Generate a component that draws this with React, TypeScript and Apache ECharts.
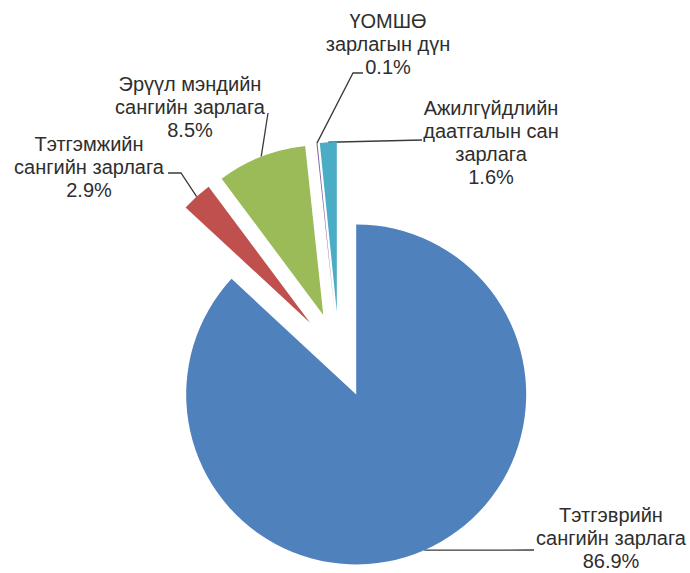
import React, { useEffect, useRef } from 'react';
import * as echarts from 'echarts';

const categories = [
  'Тэтгэврийн\nсангийн зарлага',
  'Тэтгэмжийн\nсангийн зарлага',
  'Эрүүл мэндийн\nсангийн зарлага',
  'ҮОМШӨ\nзарлагын дүн',
  'Ажилгүйдлийн\nдаатгалын сан\nзарлага',
];
const values = [86.9, 2.9, 8.5, 0.1, 1.6];
const colors = ['#4F81BD', '#C0504D', '#9BBB59', '#8064A2', '#4BACC6'];

// layout (pixels): pie geometry and label placement
const CX = 339;
const CY = 355;
const R = 170;
const EXPLODE = 43;
const labelCenters = [
  [611, 538],
  [89, 167],
  [190, 107],
  [388, 44],
  [491, 142],
];
const leaderBends = [
  [[534, 550]],
  [[181, 173], [168, 173]],
  [[268, 113]],
  [[353, 73], [363, 73]],
  [[422, 140]],
];

function midAngles(): number[] {
  const total = values.reduce((a, b) => a + b, 0);
  let acc = 0;
  return values.map((v) => {
    const a = ((acc + v / 2) / total) * Math.PI * 2;
    acc += v;
    return a;
  });
}

export default function App() {
  const ref = useRef<HTMLDivElement>(null);
  useEffect(() => {
    if (!ref.current) return;
    const chart = echarts.init(ref.current, null, { renderer: 'svg' });
    const mids = midAngles();
    // one exploded pie per slice: each series shows only its own slice,
    // shifted outward along that slice's bisector
    const series = values.map((_, i) => {
      const a = mids[i];
      const cx = CX + EXPLODE * Math.sin(a);
      const cy = CY - EXPLODE * Math.cos(a);
      return {
        type: 'pie',
        name: categories[i],
        center: [cx, cy],
        radius: [0, R],
        startAngle: 90,
        clockwise: true,
        silent: true,
        avoidLabelOverlap: false,
        minShowLabelAngle: 0,
        emphasis: { disabled: true },
        itemStyle: { borderWidth: 0 },
        label: {
          show: true,
          position: 'outside',
          formatter: (p: any) =>
            `${categories[p.dataIndex]}\n${values[p.dataIndex].toFixed(1)}%`,
          fontFamily: '"Liberation Sans", Arial, sans-serif',
          fontSize: 20,
          lineHeight: 23,
          color: '#2e2e2e',
          align: 'center',
        },
        labelLine: {
          show: true,
          lineStyle: { color: '#3a3a3a', width: 1.3 },
        },
        labelLayout: (params: any) => {
          const j = params.dataIndex;
          if (j !== i) return {};
          const sx = cx + R * Math.sin(a);
          const sy = cy - R * Math.cos(a);
          return {
            x: labelCenters[j][0],
            y: labelCenters[j][1],
            align: 'center',
            verticalAlign: 'middle',
            labelLinePoints: [[sx, sy], ...leaderBends[j]],
          };
        },
        data: values.map((v, j) =>
          j === i
            ? { name: categories[j], value: v, itemStyle: { color: colors[j], borderWidth: 0 } }
            : {
                name: categories[j],
                value: v,
                itemStyle: { color: 'rgba(0,0,0,0)', borderWidth: 0 },
                label: { show: false },
                labelLine: { show: false },
              }
        ),
      };
    });
    chart.setOption({
      animation: false,
      backgroundColor: '#ffffff',
      series,
    });
    return () => chart.dispose();
  }, []);
  return (
    <div
      ref={ref}
      style={{ position: 'absolute', left: 0, top: 0, width: 690, height: 573 }}
    />
  );
}
